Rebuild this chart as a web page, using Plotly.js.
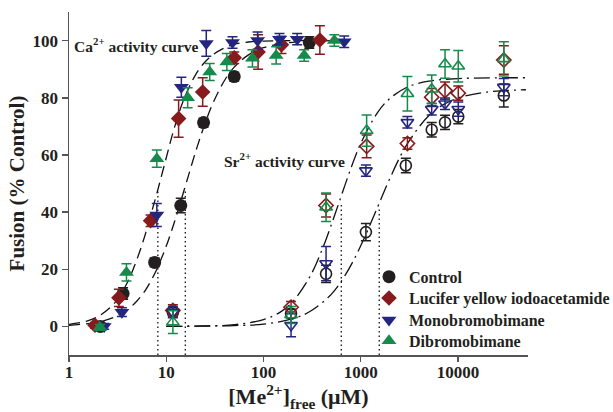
<!DOCTYPE html>
<html><head><meta charset="utf-8">
<script src="https://cdn.plot.ly/plotly-3.0.1.min.js"></script>
<style>html,body{margin:0;padding:0;background:#fff}#chart{width:613px;height:412px}</style>
</head><body><div id="chart"></div>
<script>
// ---- series names ----
const seriesNames = ['Control', 'Lucifer yellow iodoacetamide', 'Monobromobimane', 'Dibromobimane'];

// ---- Ca2+ activity data (filled symbols) ----
const caCtrlX = [2.1, 3.6, 7.6, 14.1, 24.2, 50, 296];
const caCtrlY = [0, 11.5, 22.4, 42.3, 71.3, 87.4, 99.3];
const caCtrlE = [1, 2, 1.5, 2.5, 1.5, 1.5, 2];

const caLyX = [1.85, 3.26, 6.9, 13.4, 23.7, 50, 88, 153, 380];
const caLyY = [0.4, 10, 37, 72.7, 82, 94, 96, 98.5, 100.2];
const caLyE = [1, 3, 2, 6.5, 5, 2, 6, 3, 5];

const caMonoX = [2.3, 3.5, 8, 14.3, 25.8, 48, 87, 146, 222, 676];
const caMonoY = [0, 5, 39, 83.7, 99, 99.3, 100, 100.5, 100.5, 99.6];
const caMonoE = [1, 1.5, 4, 3.5, 4.5, 2, 3, 2, 2, 2];

const caDiX = [2.08, 3.9, 8, 16.6, 28, 42, 77, 135, 262, 535];
const caDiY = [-0.3, 18.9, 58.7, 80, 89, 92.5, 93.8, 94.8, 94.8, 100];
const caDiE = [1, 3, 3, 3.5, 3, 3, 3, 3, 2, 2];

// ---- Sr2+ activity data (open symbols) ----
const srCtrlX = [11.7, 192, 440, 1130, 2910, 5370, 7360, 10070, 29600];
const srCtrlY = [5, 4.5, 18.4, 33, 56.3, 68.8, 71.4, 73.4, 80.8];
const srCtrlE = [1.5, 1.5, 3, 3, 2.5, 2.5, 2.5, 2.5, 4];

const srLyX = [11.7, 192, 440, 1150, 3020, 5370, 7360, 10070, 29600];
const srLyY = [5.6, 6.7, 42.3, 63, 64, 80.2, 82.5, 81.6, 93.2];
const srLyE = [2, 2, 4, 4, 2, 3, 3, 2.5, 5];

const srMonoX = [11.7, 192, 440, 1130, 3020, 5370, 7360, 10070, 29600];
const srMonoY = [5, 0.4, 22, 54.5, 71.4, 76, 77.9, 76, 83.7];
const srMonoE = [2, 4, 6, 2, 2, 2, 2, 2.5, 3];

const srDiX = [11.7, 192, 440, 1150, 3020, 5370, 7360, 10070, 29600];
const srDiY = [1.5, 4, 41.7, 68.5, 81.4, 83, 91.8, 91, 93.6];
const srDiE = [4, 3, 5, 5.5, 6, 5, 5, 5.5, 6];

// ---- fitted activity curves ----
const caFastX = [1, 1.5, 2, 3, 4, 5, 6, 7, 8, 10, 12, 15, 20, 25, 30, 40, 50, 70, 100, 200, 700];
const caFastY = [0.7, 1.8, 3.5, 8.5, 15.5, 23.5, 31.5, 39.5, 46.5, 59, 69, 79, 88, 92.5, 95, 97.5, 98.7, 99.5, 99.8, 100, 100];
const caSlowX = [1, 2, 3, 4, 5, 6, 7, 8, 10, 12, 14, 16, 20, 25, 30, 40, 50, 70, 100, 200, 700];
const caSlowY = [0.4, 1.5, 3.4, 5.9, 8.9, 12.3, 16.1, 20, 28.1, 36, 43.4, 50, 61, 70.9, 77.9, 86.2, 90.7, 95, 97.5, 99.4, 100];
const srFastX = [10, 20, 50, 100, 150, 200, 300, 400, 500, 600, 800, 1000, 1500, 2000, 3000, 5000, 10000, 50000];
const srFastY = [0, 0.1, 0.6, 2.4, 5.1, 8.7, 17.4, 26.8, 35.7, 43.5, 55.7, 64, 75, 79.8, 83.7, 85.8, 86.7, 87];
const srSlowX = [10, 50, 100, 200, 300, 500, 700, 1000, 1480, 2000, 3000, 5000, 7000, 10000, 20000, 50000];
const srSlowY = [0, 0.3, 0.8, 2.7, 5.2, 11.3, 18.2, 28.2, 41.5, 51.9, 63.8, 73.7, 77.5, 79.9, 82, 82.8];

// ---- half-maximal drop lines ----
const halfX = [8.2, 15.7, 631, 1550];
const halfY = [48, 48, 43.5, 41];

// ---- axis ticks ----
const xTickVals = [1, 10, 100, 1000, 10000];
const xTickText = ['1', '10', '100', '1000', '10000'];
const yTickVals = [0, 20, 40, 60, 80, 100];

// ---- styling ----
const FONT = 'Liberation Serif, Times New Roman, serif';
const colors = ['#231f20', '#861a1c', '#24267e', '#168a4a'];
const filledSym = ['circle', 'diamond', 'triangle-down', 'triangle-up'];
const openSym = ['circle-open', 'diamond-open', 'triangle-down-open', 'triangle-up-open'];
const filledSize = [13, 12, 13, 13];
const legendIds = ['legend', 'legend2', 'legend3', 'legend4'];
const legendRowY = [0.228, 0.166, 0.102, 0.041];

const traces = [];

function curve(x, y, dash) {
  traces.push({x: x, y: y, type: 'scatter', mode: 'lines', showlegend: false, hoverinfo: 'skip',
    line: {color: '#111', width: 1.3, dash: dash, shape: 'spline', smoothing: 1}});
}
curve(caFastX, caFastY, '11px,6px');
curve(caSlowX, caSlowY, '11px,6px');
curve(srFastX, srFastY, '16px,5px,2px,5px');
curve(srSlowX, srSlowY, '16px,5px,2px,5px');

halfX.forEach((hx, i) => {
  traces.push({x: [hx, hx], y: [-10, halfY[i]], type: 'scatter', mode: 'lines', showlegend: false, hoverinfo: 'skip',
    line: {color: '#111', width: 1.3, dash: '1.5px,3px'}});
});

const srSets = [[srCtrlX, srCtrlY, srCtrlE], [srLyX, srLyY, srLyE], [srMonoX, srMonoY, srMonoE], [srDiX, srDiY, srDiE]];
const caSets = [[caCtrlX, caCtrlY, caCtrlE], [caLyX, caLyY, caLyE], [caMonoX, caMonoY, caMonoE], [caDiX, caDiY, caDiE]];

srSets.forEach((s, i) => {
  traces.push({x: s[0], y: s[1], type: 'scatter', mode: 'markers', name: seriesNames[i], showlegend: false,
    marker: {symbol: openSym[i], size: 11, color: colors[i], line: {width: 1.6, color: colors[i]}},
    error_y: {type: 'data', array: s[2], visible: true, color: colors[i], thickness: 1.5, width: 5}});
});
caSets.forEach((s, i) => {
  traces.push({x: s[0], y: s[1], type: 'scatter', mode: 'markers', name: seriesNames[i], showlegend: true,
    legend: legendIds[i],
    marker: {symbol: filledSym[i], size: filledSize[i], color: colors[i], line: {width: 0}},
    error_y: {type: 'data', array: s[2], visible: true, color: colors[i], thickness: 1.5, width: 5}});
});

const legendFont = {family: FONT, size: 16, color: '#231f20', weight: 'bold'};
function legendBox(yy) {
  return {x: 0.6536, xanchor: 'left', y: yy, yanchor: 'middle', bgcolor: 'rgba(0,0,0,0)', borderwidth: 0, font: legendFont};
}

const layout = {
  width: 613, height: 412,
  margin: {l: 69, r: 85, t: 12, b: 57, autoexpand: false},
  paper_bgcolor: '#fff', plot_bgcolor: '#fff',
  font: {family: FONT, color: '#231f20', weight: 'bold'},
  showlegend: true,
  legend: legendBox(legendRowY[0]),
  legend2: legendBox(legendRowY[1]),
  legend3: legendBox(legendRowY[2]),
  legend4: legendBox(legendRowY[3]),
  xaxis: {type: 'log', range: [0, 4.72], tickvals: xTickVals, ticktext: xTickText,
    showgrid: false, zeroline: false, showline: true, linecolor: '#555', linewidth: 1.5,
    ticks: 'outside', ticklen: 5, tickwidth: 1.5, tickcolor: '#555', ticklabelstandoff: -4,
    tickfont: {family: FONT, size: 17, color: '#231f20', weight: 'bold'},
    title: {text: '[Me<sup>2+</sup>]<sub>free</sub> (μM)', font: {family: FONT, size: 22, color: '#231f20', weight: 'bold'}, standoff: 10}},
  yaxis: {range: [-10, 110], tickvals: yTickVals,
    showgrid: false, zeroline: false, showline: true, linecolor: '#555', linewidth: 1.5,
    ticks: 'outside', ticklen: 6, tickwidth: 1.5, tickcolor: '#555',
    tickfont: {family: FONT, size: 17, color: '#231f20', weight: 'bold'},
    title: {text: 'Fusion (% Control)', font: {family: FONT, size: 21, color: '#231f20', weight: 'bold'}, standoff: 2}},
  annotations: [
    {xref: 'x', yref: 'y', x: Math.log10(1.07), y: 98.3, xanchor: 'left', yanchor: 'middle', showarrow: false,
      text: 'Ca<sup>2+</sup> activity curve', font: {family: FONT, size: 15.5, color: '#231f20', weight: 'bold'}},
    {xref: 'x', yref: 'y', x: Math.log10(37.5), y: 58.2, xanchor: 'left', yanchor: 'middle', showarrow: false,
      text: 'Sr<sup>2+</sup> activity curve', font: {family: FONT, size: 15.5, color: '#231f20', weight: 'bold'}}
  ]
};

Plotly.newPlot('chart', traces, layout, {displayModeBar: false, staticPlot: true});
</script>
</body></html>
